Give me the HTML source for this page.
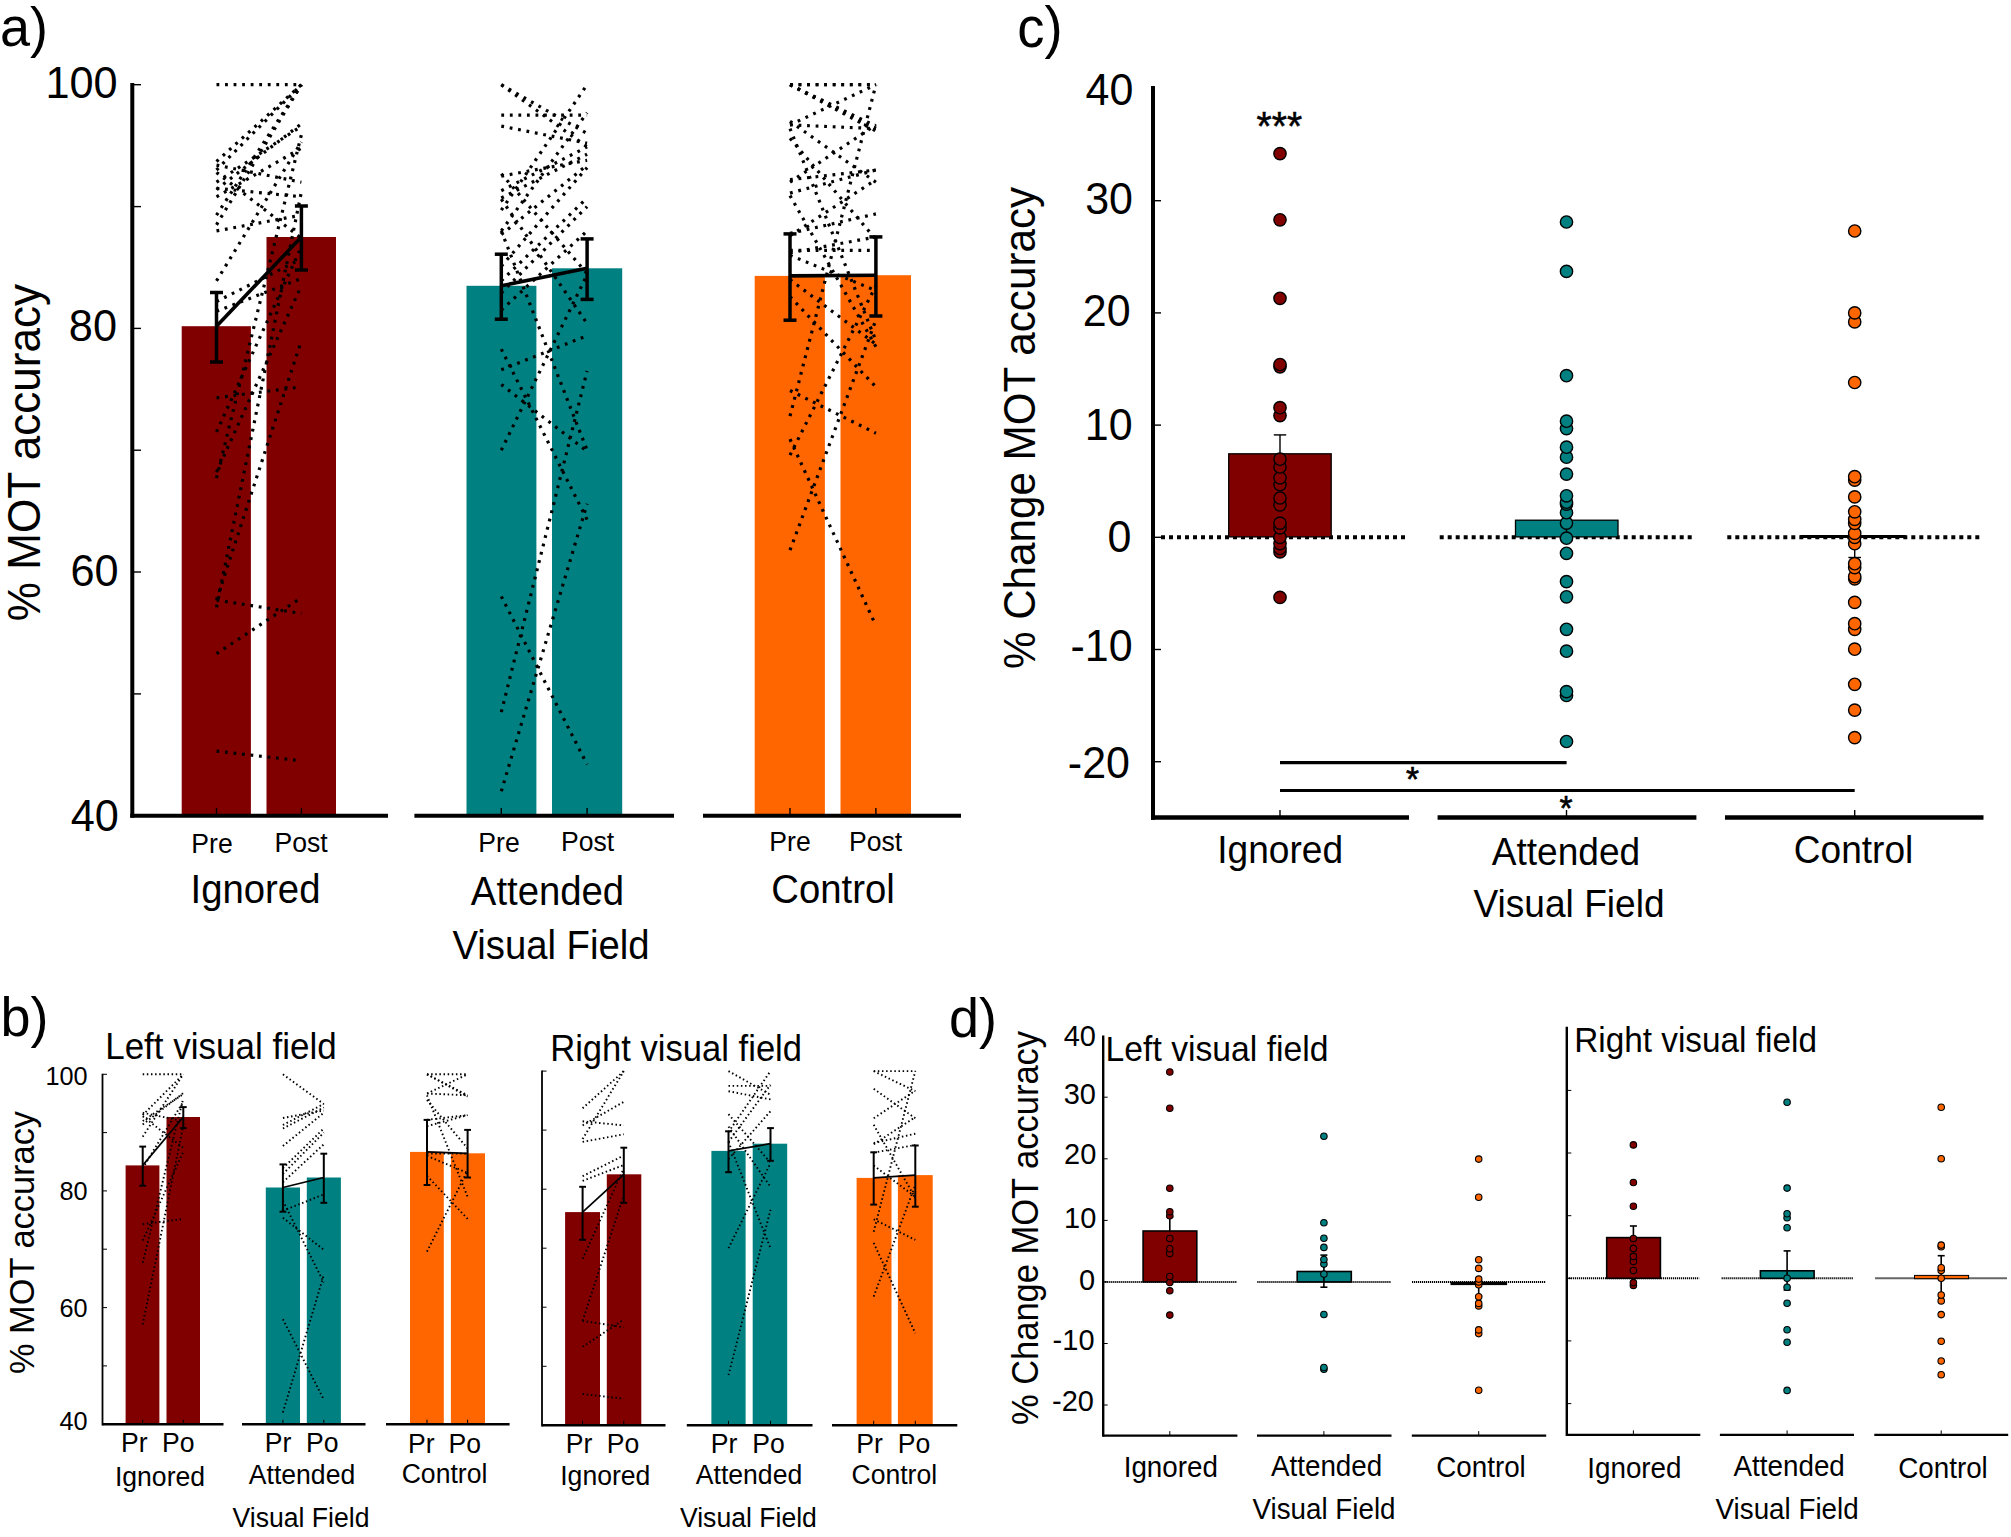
<!DOCTYPE html>
<html lang="en"><head><meta charset="utf-8"><title>MOT accuracy figure</title>
<style>
html,body{margin:0;padding:0;background:#fff;}
body{width:2011px;height:1537px;overflow:hidden;}
svg{display:block;}
svg text{font-family:"Liberation Sans",sans-serif;fill:#000;}
</style></head><body>
<svg width="2011" height="1537" viewBox="0 0 2011 1537">
<rect width="2011" height="1537" fill="#fff"/>
<g id="panel-a">
<rect x="181.7" y="326.2" width="69.2" height="489.5" fill="#800000"/>
<rect x="266.5" y="237" width="69.5" height="578.7" fill="#800000"/>
<rect x="466.5" y="285.8" width="69.9" height="529.9" fill="#008080"/>
<rect x="552" y="268.3" width="70.2" height="547.4" fill="#008080"/>
<rect x="754.7" y="275.9" width="70.2" height="539.8" fill="#ff6600"/>
<rect x="840.5" y="275.2" width="70.5" height="540.5" fill="#ff6600"/>
<g stroke="#000" stroke-width="3.2" stroke-dasharray="2.8 5.75" fill="none">
<path d="M216.5 607.4L301.4 191.9"/>
<path d="M216.5 478.2L301.4 134.7"/>
<path d="M216.5 431.9L301.4 246.8"/>
<path d="M216.5 280.9L301.4 142"/>
<path d="M216.5 215.1L301.4 84.7"/>
<path d="M216.5 170L301.4 84.7"/>
<path d="M216.5 189.5L301.4 123.7"/>
<path d="M216.5 182.2L301.4 126.1"/>
<path d="M216.5 397.8L301.4 386.9"/>
<path d="M216.5 84.7L301.4 84.7"/>
<path d="M216.5 165.1L301.4 182.2"/>
<path d="M216.5 172.4L301.4 238.2"/>
<path d="M216.5 751.1L301.4 760.9"/>
<path d="M216.5 600.1L301.4 613.5"/>
<path d="M216.5 653.7L301.4 597.6"/>
<path d="M216.5 600.1L301.4 340.6"/>
<path d="M216.5 472.1L301.4 285.7"/>
<path d="M216.5 301.6L301.4 258.9"/>
<path d="M216.5 311.3L301.4 278.4"/>
<path d="M216.5 161.5L301.4 84.7"/>
<path d="M216.5 224.8L301.4 84.7"/>
<path d="M216.5 230.9L301.4 215.1"/>
<path d="M216.5 196.8L301.4 148.1"/>
<path d="M216.5 188.3L301.4 196.8"/>
</g>
<line x1="216.5" y1="326.2" x2="301.4" y2="237" stroke="#000" stroke-width="3.6"/>
<line x1="216.5" y1="292.5" x2="216.5" y2="362" stroke="#000" stroke-width="3.5"/>
<line x1="210" y1="292.5" x2="223" y2="292.5" stroke="#000" stroke-width="3.5"/>
<line x1="210" y1="362" x2="223" y2="362" stroke="#000" stroke-width="3.5"/>
<line x1="301.4" y1="206" x2="301.4" y2="270" stroke="#000" stroke-width="3.5"/>
<line x1="294.9" y1="206" x2="307.9" y2="206" stroke="#000" stroke-width="3.5"/>
<line x1="294.9" y1="270" x2="307.9" y2="270" stroke="#000" stroke-width="3.5"/>
<g stroke="#000" stroke-width="3.2" stroke-dasharray="2.8 5.75" fill="none">
<path d="M501.3 791.3L587.1 503.8"/>
<path d="M501.3 596.4L587.1 764.5"/>
<path d="M501.3 84.7L587.1 146.9"/>
<path d="M501.3 369.8L587.1 335.7"/>
<path d="M501.3 384.4L587.1 451.4"/>
<path d="M501.3 349.1L587.1 519.7"/>
<path d="M501.3 176.1L587.1 160.3"/>
<path d="M501.3 190.7L587.1 146.9"/>
<path d="M501.3 198L587.1 154.2"/>
<path d="M501.3 234.6L587.1 165.1"/>
<path d="M501.3 280.9L587.1 198"/>
<path d="M501.3 293L587.1 206.6"/>
<path d="M501.3 310.1L587.1 230.9"/>
<path d="M501.3 712.1L587.1 371"/>
<path d="M501.3 450.2L587.1 274.8"/>
<path d="M501.3 210.2L587.1 84.7"/>
<path d="M501.3 230.9L587.1 112.7"/>
<path d="M501.3 266.2L587.1 167.6"/>
<path d="M501.3 115.2L587.1 115.2"/>
<path d="M501.3 126.1L587.1 143.2"/>
<path d="M501.3 84.7L587.1 133.5"/>
<path d="M501.3 173.7L587.1 273.6"/>
<path d="M501.3 199.2L587.1 323.5"/>
<path d="M501.3 230.9L587.1 450.2"/>
</g>
<line x1="501.3" y1="285.8" x2="587.1" y2="268.3" stroke="#000" stroke-width="3.6"/>
<line x1="501.3" y1="254.2" x2="501.3" y2="319.2" stroke="#000" stroke-width="3.5"/>
<line x1="494.8" y1="254.2" x2="507.8" y2="254.2" stroke="#000" stroke-width="3.5"/>
<line x1="494.8" y1="319.2" x2="507.8" y2="319.2" stroke="#000" stroke-width="3.5"/>
<line x1="587.1" y1="238.9" x2="587.1" y2="299.4" stroke="#000" stroke-width="3.5"/>
<line x1="580.6" y1="238.9" x2="593.6" y2="238.9" stroke="#000" stroke-width="3.5"/>
<line x1="580.6" y1="299.4" x2="593.6" y2="299.4" stroke="#000" stroke-width="3.5"/>
<g stroke="#000" stroke-width="3.2" stroke-dasharray="2.8 5.75" fill="none">
<path d="M790 84.7L875.9 84.7"/>
<path d="M790 84.7L875.9 131"/>
<path d="M790 84.7L875.9 128.6"/>
<path d="M790 124.9L875.9 84.7"/>
<path d="M790 124.9L875.9 128.6"/>
<path d="M790 128.6L875.9 340.6"/>
<path d="M790 138.3L875.9 239.4"/>
<path d="M790 179.7L875.9 170"/>
<path d="M790 193.1L875.9 170"/>
<path d="M790 250.4L875.9 250.4"/>
<path d="M790 255.3L875.9 290.6"/>
<path d="M790 296.7L875.9 386.9"/>
<path d="M790 455.1L875.9 285.7"/>
<path d="M790 84.7L875.9 84.7"/>
<path d="M790 84.7L875.9 126.1"/>
<path d="M790 416.1L875.9 84.7"/>
<path d="M790 121.3L875.9 182.2"/>
<path d="M790 182.2L875.9 124.9"/>
<path d="M790 195.6L875.9 346.7"/>
<path d="M790 233.4L875.9 213.9"/>
<path d="M790 235.8L875.9 179.7"/>
<path d="M790 252.8L875.9 237"/>
<path d="M790 279.6L875.9 344.2"/>
<path d="M790 390.5L875.9 433.2"/>
<path d="M790 439.2L875.9 625.6"/>
<path d="M790 550.1L875.9 319.9"/>
</g>
<line x1="790" y1="275.9" x2="875.9" y2="275.2" stroke="#000" stroke-width="3.6"/>
<line x1="790" y1="233.9" x2="790" y2="320.2" stroke="#000" stroke-width="3.5"/>
<line x1="783.5" y1="233.9" x2="796.5" y2="233.9" stroke="#000" stroke-width="3.5"/>
<line x1="783.5" y1="320.2" x2="796.5" y2="320.2" stroke="#000" stroke-width="3.5"/>
<line x1="875.9" y1="236.9" x2="875.9" y2="316" stroke="#000" stroke-width="3.5"/>
<line x1="869.4" y1="236.9" x2="882.4" y2="236.9" stroke="#000" stroke-width="3.5"/>
<line x1="869.4" y1="316" x2="882.4" y2="316" stroke="#000" stroke-width="3.5"/>
<line x1="132.3" y1="83" x2="132.3" y2="817.7" stroke="#000" stroke-width="4"/>
<line x1="130.3" y1="815.8" x2="388" y2="815.8" stroke="#000" stroke-width="4"/>
<line x1="414.4" y1="815.8" x2="674" y2="815.8" stroke="#000" stroke-width="4"/>
<line x1="703" y1="815.8" x2="961" y2="815.8" stroke="#000" stroke-width="4"/>
<line x1="132" y1="815.7" x2="141" y2="815.7" stroke="#000" stroke-width="1.4"/>
<line x1="132" y1="693.9" x2="141" y2="693.9" stroke="#000" stroke-width="1.4"/>
<line x1="132" y1="572" x2="141" y2="572" stroke="#000" stroke-width="1.4"/>
<line x1="132" y1="450.2" x2="141" y2="450.2" stroke="#000" stroke-width="1.4"/>
<line x1="132" y1="328.4" x2="141" y2="328.4" stroke="#000" stroke-width="1.4"/>
<line x1="132" y1="206.6" x2="141" y2="206.6" stroke="#000" stroke-width="1.4"/>
<line x1="132" y1="84.7" x2="141" y2="84.7" stroke="#000" stroke-width="1.4"/>
<line x1="216.5" y1="808" x2="216.5" y2="815" stroke="#000" stroke-width="1.4"/>
<line x1="301.4" y1="808" x2="301.4" y2="815" stroke="#000" stroke-width="1.4"/>
<line x1="501.3" y1="808" x2="501.3" y2="815" stroke="#000" stroke-width="1.4"/>
<line x1="587.1" y1="808" x2="587.1" y2="815" stroke="#000" stroke-width="1.4"/>
<line x1="790" y1="808" x2="790" y2="815" stroke="#000" stroke-width="1.4"/>
<line x1="875.9" y1="808" x2="875.9" y2="815" stroke="#000" stroke-width="1.4"/>
<text transform="translate(0 46.3) scale(1 1.045)" font-size="54" text-anchor="start">a)</text>
<text transform="translate(117.6 97.9) scale(1 1.045)" font-size="43.3" text-anchor="end">100</text>
<text transform="translate(117 341.4) scale(1 1.045)" font-size="43.3" text-anchor="end">80</text>
<text transform="translate(118.7 586.4) scale(1 1.045)" font-size="43.3" text-anchor="end">60</text>
<text transform="translate(118.9 830.8) scale(1 1.045)" font-size="43.3" text-anchor="end">40</text>
<text transform="translate(40.4 452.5) rotate(-90) scale(1 1.045)" font-size="44.1" text-anchor="middle">% MOT accuracy</text>
<text transform="translate(212 852.7) scale(1 1.045)" font-size="26.6" text-anchor="middle">Pre</text>
<text transform="translate(301 851.7) scale(1 1.045)" font-size="26.6" text-anchor="middle">Post</text>
<text transform="translate(499 852) scale(1 1.045)" font-size="26.6" text-anchor="middle">Pre</text>
<text transform="translate(587.5 851) scale(1 1.045)" font-size="26.6" text-anchor="middle">Post</text>
<text transform="translate(790 850.5) scale(1 1.045)" font-size="26.6" text-anchor="middle">Pre</text>
<text transform="translate(875.5 850.5) scale(1 1.045)" font-size="26.6" text-anchor="middle">Post</text>
<text transform="translate(255.5 903.4) scale(1 1.045)" font-size="38.3" text-anchor="middle">Ignored</text>
<text transform="translate(547.5 905.4) scale(1 1.045)" font-size="38.3" text-anchor="middle">Attended</text>
<text transform="translate(833 903.4) scale(1 1.045)" font-size="38.3" text-anchor="middle">Control</text>
<text transform="translate(551 959) scale(1 1.045)" font-size="38.3" text-anchor="middle">Visual Field</text>
</g>
<g id="panel-c">
<line x1="1161" y1="537.2" x2="1407.6" y2="537.2" stroke="#000" stroke-width="4" stroke-dasharray="4 4"/>
<line x1="1439.7" y1="537.2" x2="1693.5" y2="537.2" stroke="#000" stroke-width="4" stroke-dasharray="4 4"/>
<line x1="1727.3" y1="537.2" x2="1981.5" y2="537.2" stroke="#000" stroke-width="4" stroke-dasharray="4 4"/>
<rect x="1228.7" y="453.8" width="102.5" height="83.1" fill="#800000" stroke="#000" stroke-width="1.3"/>
<line x1="1280" y1="434.9" x2="1280" y2="453.8" stroke="#000" stroke-width="1.4"/>
<line x1="1273.8" y1="434.9" x2="1286.2" y2="434.9" stroke="#000" stroke-width="1.4"/>
<rect x="1515.5" y="520.2" width="102.5" height="16.7" fill="#008080" stroke="#000" stroke-width="1.3"/>
<line x1="1566.5" y1="520" x2="1566.5" y2="541" stroke="#000" stroke-width="1.4"/>
<line x1="1800.3" y1="536.6" x2="1905.7" y2="536.6" stroke="#000" stroke-width="3"/>
<line x1="1854.7" y1="536" x2="1854.7" y2="557.5" stroke="#000" stroke-width="1.4"/>
<line x1="1848.4" y1="557.5" x2="1861" y2="557.5" stroke="#000" stroke-width="1.4"/>
<g fill="#800000" stroke="#000" stroke-width="1.4">
<circle cx="1280" cy="597.4" r="6.15"/>
<circle cx="1280" cy="551.9" r="6.15"/>
<circle cx="1280" cy="548.5" r="6.15"/>
<circle cx="1280" cy="543.6" r="6.15"/>
<circle cx="1280" cy="537.3" r="6.15"/>
<circle cx="1280" cy="527.9" r="6.15"/>
<circle cx="1280" cy="523.1" r="6.15"/>
<circle cx="1280" cy="504.8" r="6.15"/>
<circle cx="1280" cy="498" r="6.15"/>
<circle cx="1280" cy="484.6" r="6.15"/>
<circle cx="1280" cy="477.8" r="6.15"/>
<circle cx="1280" cy="467" r="6.15"/>
<circle cx="1280" cy="459.2" r="6.15"/>
<circle cx="1280" cy="415.6" r="6.15"/>
<circle cx="1280" cy="407.7" r="6.15"/>
<circle cx="1280" cy="366.8" r="6.15"/>
<circle cx="1280" cy="364.5" r="6.15"/>
<circle cx="1280" cy="298.3" r="6.15"/>
<circle cx="1280" cy="219.8" r="6.15"/>
<circle cx="1280" cy="153.6" r="6.15"/>
</g>
<g fill="#008080" stroke="#000" stroke-width="1.4">
<circle cx="1566.5" cy="741.5" r="6.15"/>
<circle cx="1566.5" cy="695.5" r="6.15"/>
<circle cx="1566.5" cy="691.6" r="6.15"/>
<circle cx="1566.5" cy="651.2" r="6.15"/>
<circle cx="1566.5" cy="629.3" r="6.15"/>
<circle cx="1566.5" cy="596.8" r="6.15"/>
<circle cx="1566.5" cy="581.6" r="6.15"/>
<circle cx="1566.5" cy="553.3" r="6.15"/>
<circle cx="1566.5" cy="538.2" r="6.15"/>
<circle cx="1566.5" cy="523.1" r="6.15"/>
<circle cx="1566.5" cy="512.7" r="6.15"/>
<circle cx="1566.5" cy="504.1" r="6.15"/>
<circle cx="1566.5" cy="502.2" r="6.15"/>
<circle cx="1566.5" cy="495.8" r="6.15"/>
<circle cx="1566.5" cy="474.1" r="6.15"/>
<circle cx="1566.5" cy="457.2" r="6.15"/>
<circle cx="1566.5" cy="447.2" r="6.15"/>
<circle cx="1566.5" cy="428.6" r="6.15"/>
<circle cx="1566.5" cy="421.2" r="6.15"/>
<circle cx="1566.5" cy="375.7" r="6.15"/>
<circle cx="1566.5" cy="271.4" r="6.15"/>
<circle cx="1566.5" cy="222" r="6.15"/>
</g>
<g fill="#ff6600" stroke="#000" stroke-width="1.4">
<circle cx="1854.7" cy="737.6" r="6.15"/>
<circle cx="1854.7" cy="710.1" r="6.15"/>
<circle cx="1854.7" cy="684.3" r="6.15"/>
<circle cx="1854.7" cy="649.2" r="6.15"/>
<circle cx="1854.7" cy="629.3" r="6.15"/>
<circle cx="1854.7" cy="623.7" r="6.15"/>
<circle cx="1854.7" cy="602.4" r="6.15"/>
<circle cx="1854.7" cy="578.8" r="6.15"/>
<circle cx="1854.7" cy="576.6" r="6.15"/>
<circle cx="1854.7" cy="567.6" r="6.15"/>
<circle cx="1854.7" cy="563.7" r="6.15"/>
<circle cx="1854.7" cy="543.7" r="6.15"/>
<circle cx="1854.7" cy="537.3" r="6.15"/>
<circle cx="1854.7" cy="533.4" r="6.15"/>
<circle cx="1854.7" cy="523.3" r="6.15"/>
<circle cx="1854.7" cy="519.3" r="6.15"/>
<circle cx="1854.7" cy="511.8" r="6.15"/>
<circle cx="1854.7" cy="496.9" r="6.15"/>
<circle cx="1854.7" cy="480.1" r="6.15"/>
<circle cx="1854.7" cy="476.7" r="6.15"/>
<circle cx="1854.7" cy="382.5" r="6.15"/>
<circle cx="1854.7" cy="321.9" r="6.15"/>
<circle cx="1854.7" cy="312.9" r="6.15"/>
<circle cx="1854.7" cy="231" r="6.15"/>
</g>
<line x1="1153" y1="86" x2="1153" y2="819.8" stroke="#000" stroke-width="4"/>
<line x1="1151" y1="817.6" x2="1409" y2="817.6" stroke="#000" stroke-width="4.5"/>
<line x1="1437.6" y1="817.6" x2="1696.4" y2="817.6" stroke="#000" stroke-width="4.5"/>
<line x1="1725" y1="817.6" x2="1983.5" y2="817.6" stroke="#000" stroke-width="4.5"/>
<line x1="1153" y1="200.7" x2="1161" y2="200.7" stroke="#000" stroke-width="1.4"/>
<line x1="1153" y1="312.9" x2="1161" y2="312.9" stroke="#000" stroke-width="1.4"/>
<line x1="1153" y1="425.1" x2="1161" y2="425.1" stroke="#000" stroke-width="1.4"/>
<line x1="1153" y1="537.3" x2="1161" y2="537.3" stroke="#000" stroke-width="1.4"/>
<line x1="1153" y1="649.5" x2="1161" y2="649.5" stroke="#000" stroke-width="1.4"/>
<line x1="1153" y1="761.7" x2="1161" y2="761.7" stroke="#000" stroke-width="1.4"/>
<line x1="1280" y1="810" x2="1280" y2="817" stroke="#000" stroke-width="1.4"/>
<line x1="1566.5" y1="810" x2="1566.5" y2="817" stroke="#000" stroke-width="1.4"/>
<line x1="1854.7" y1="810" x2="1854.7" y2="817" stroke="#000" stroke-width="1.4"/>
<line x1="1280" y1="762.7" x2="1566.6" y2="762.7" stroke="#000" stroke-width="3.2"/>
<line x1="1280" y1="790.5" x2="1854.7" y2="790.5" stroke="#000" stroke-width="3.2"/>
<text transform="translate(1412.5 790.6) scale(1 1.045)" font-size="33.5" text-anchor="middle" stroke="#000" stroke-width="0.6">*</text>
<text transform="translate(1566 819.6) scale(1 1.045)" font-size="33.5" text-anchor="middle" stroke="#000" stroke-width="0.6">*</text>
<text transform="translate(1279.3 140.1) scale(1 1.045)" font-size="39" text-anchor="middle" stroke="#000" stroke-width="0.5">***</text>
<text transform="translate(1017.3 46.5) scale(1 1.045)" font-size="54.5" text-anchor="start">c)</text>
<text transform="translate(1133.3 105.2) scale(1 1.045)" font-size="43" text-anchor="end">40</text>
<text transform="translate(1133 214.2) scale(1 1.045)" font-size="43" text-anchor="end">30</text>
<text transform="translate(1130.7 326.3) scale(1 1.045)" font-size="43" text-anchor="end">20</text>
<text transform="translate(1132.6 439.6) scale(1 1.045)" font-size="43" text-anchor="end">10</text>
<text transform="translate(1131.3 552.2) scale(1 1.045)" font-size="43" text-anchor="end">0</text>
<text transform="translate(1132.6 660.6) scale(1 1.045)" font-size="43" text-anchor="end">-10</text>
<text transform="translate(1130 777.9) scale(1 1.045)" font-size="43" text-anchor="end">-20</text>
<text transform="translate(1035 428) rotate(-90) scale(1 1.045)" font-size="42.2" text-anchor="middle">% Change MOT accuracy</text>
<text transform="translate(1280.2 863) scale(1 1.045)" font-size="37.1" text-anchor="middle">Ignored</text>
<text transform="translate(1566 865) scale(1 1.045)" font-size="37.1" text-anchor="middle">Attended</text>
<text transform="translate(1853.5 863) scale(1 1.045)" font-size="37.1" text-anchor="middle">Control</text>
<text transform="translate(1569 916.7) scale(1 1.045)" font-size="37.1" text-anchor="middle">Visual Field</text>
</g>
<g id="panel-b-left">
<rect x="125.6" y="1165.4" width="33.8" height="258.8" fill="#800000"/>
<rect x="166.5" y="1117" width="33.5" height="307.2" fill="#800000"/>
<rect x="265.8" y="1187.5" width="34.2" height="236.7" fill="#008080"/>
<rect x="306.8" y="1177.5" width="34.1" height="246.7" fill="#008080"/>
<rect x="410" y="1151.9" width="33.8" height="272.3" fill="#ff6600"/>
<rect x="450.9" y="1153.3" width="34.1" height="270.9" fill="#ff6600"/>
<g stroke="#000" stroke-width="1.9" stroke-dasharray="1.5 2.63" fill="none">
<path d="M142.7 1324.5L183.3 1125.6"/>
<path d="M142.7 1262.7L183.3 1098.2"/>
<path d="M142.7 1240.5L183.3 1151.9"/>
<path d="M142.7 1168.2L183.3 1101.7"/>
<path d="M142.7 1136.7L183.3 1074.3"/>
<path d="M142.7 1115.1L183.3 1074.3"/>
<path d="M142.7 1124.5L183.3 1093"/>
<path d="M142.7 1121L183.3 1094.1"/>
<path d="M142.7 1224.2L183.3 1218.9"/>
<path d="M142.7 1074.3L183.3 1074.3"/>
<path d="M142.7 1112.8L183.3 1121"/>
<path d="M142.7 1116.3L183.3 1147.8"/>
</g>
<line x1="142.7" y1="1165.4" x2="183.3" y2="1117" stroke="#000" stroke-width="1.7"/>
<line x1="142.7" y1="1146.6" x2="142.7" y2="1185.7" stroke="#000" stroke-width="2"/>
<line x1="139.3" y1="1146.6" x2="146.1" y2="1146.6" stroke="#000" stroke-width="2"/>
<line x1="139.3" y1="1185.7" x2="146.1" y2="1185.7" stroke="#000" stroke-width="2"/>
<line x1="183.3" y1="1107.1" x2="183.3" y2="1128.1" stroke="#000" stroke-width="2"/>
<line x1="179.9" y1="1107.1" x2="186.7" y2="1107.1" stroke="#000" stroke-width="2"/>
<line x1="179.9" y1="1128.1" x2="186.7" y2="1128.1" stroke="#000" stroke-width="2"/>
<g stroke="#000" stroke-width="1.9" stroke-dasharray="1.5 2.63" fill="none">
<path d="M282.9 1412.5L323.8 1274.9"/>
<path d="M282.9 1319.2L323.8 1399.7"/>
<path d="M282.9 1074.3L323.8 1104"/>
<path d="M282.9 1210.8L323.8 1194.4"/>
<path d="M282.9 1217.8L323.8 1249.8"/>
<path d="M282.9 1200.8L323.8 1282.5"/>
<path d="M282.9 1118L323.8 1110.5"/>
<path d="M282.9 1125L323.8 1104"/>
<path d="M282.9 1128.5L323.8 1107.5"/>
<path d="M282.9 1146L323.8 1112.8"/>
<path d="M282.9 1168.2L323.8 1128.5"/>
<path d="M282.9 1174L323.8 1132.6"/>
<path d="M282.9 1182.2L323.8 1144.3"/>
</g>
<line x1="282.9" y1="1187.5" x2="323.8" y2="1177.5" stroke="#000" stroke-width="1.7"/>
<line x1="282.9" y1="1164.4" x2="282.9" y2="1211.7" stroke="#000" stroke-width="2"/>
<line x1="279.5" y1="1164.4" x2="286.3" y2="1164.4" stroke="#000" stroke-width="2"/>
<line x1="279.5" y1="1211.7" x2="286.3" y2="1211.7" stroke="#000" stroke-width="2"/>
<line x1="323.8" y1="1153.7" x2="323.8" y2="1202.8" stroke="#000" stroke-width="2"/>
<line x1="320.4" y1="1153.7" x2="327.2" y2="1153.7" stroke="#000" stroke-width="2"/>
<line x1="320.4" y1="1202.8" x2="327.2" y2="1202.8" stroke="#000" stroke-width="2"/>
<g stroke="#000" stroke-width="1.9" stroke-dasharray="1.5 2.63" fill="none">
<path d="M427 1074.3L467.6 1074.3"/>
<path d="M427 1074.3L467.6 1096.5"/>
<path d="M427 1074.3L467.6 1095.3"/>
<path d="M427 1093.5L467.6 1074.3"/>
<path d="M427 1093.5L467.6 1095.3"/>
<path d="M427 1095.3L467.6 1196.8"/>
<path d="M427 1100L467.6 1148.4"/>
<path d="M427 1119.8L467.6 1115.1"/>
<path d="M427 1126.2L467.6 1115.1"/>
<path d="M427 1153.6L467.6 1153.6"/>
<path d="M427 1155.9L467.6 1172.9"/>
<path d="M427 1175.8L467.6 1218.9"/>
<path d="M427 1251.6L467.6 1170.5"/>
</g>
<line x1="427" y1="1151.9" x2="467.6" y2="1153.3" stroke="#000" stroke-width="1.7"/>
<line x1="427" y1="1119.9" x2="427" y2="1185" stroke="#000" stroke-width="2"/>
<line x1="423.6" y1="1119.9" x2="430.4" y2="1119.9" stroke="#000" stroke-width="2"/>
<line x1="423.6" y1="1185" x2="430.4" y2="1185" stroke="#000" stroke-width="2"/>
<line x1="467.6" y1="1129.9" x2="467.6" y2="1177.5" stroke="#000" stroke-width="2"/>
<line x1="464.2" y1="1129.9" x2="471" y2="1129.9" stroke="#000" stroke-width="2"/>
<line x1="464.2" y1="1177.5" x2="471" y2="1177.5" stroke="#000" stroke-width="2"/>
<line x1="102.5" y1="1073.7" x2="102.5" y2="1425.4" stroke="#000" stroke-width="1.8"/>
<line x1="102.5" y1="1424.2" x2="223.5" y2="1424.2" stroke="#000" stroke-width="2.4"/>
<line x1="242" y1="1424.2" x2="365.5" y2="1424.2" stroke="#000" stroke-width="2.4"/>
<line x1="386" y1="1424.2" x2="509.6" y2="1424.2" stroke="#000" stroke-width="2.4"/>
<line x1="102.5" y1="1424.2" x2="107" y2="1424.2" stroke="#000" stroke-width="1"/>
<line x1="102.5" y1="1365.9" x2="107" y2="1365.9" stroke="#000" stroke-width="1"/>
<line x1="102.5" y1="1307.6" x2="107" y2="1307.6" stroke="#000" stroke-width="1"/>
<line x1="102.5" y1="1249.2" x2="107" y2="1249.2" stroke="#000" stroke-width="1"/>
<line x1="102.5" y1="1190.9" x2="107" y2="1190.9" stroke="#000" stroke-width="1"/>
<line x1="102.5" y1="1132.6" x2="107" y2="1132.6" stroke="#000" stroke-width="1"/>
<line x1="102.5" y1="1074.3" x2="107" y2="1074.3" stroke="#000" stroke-width="1"/>
<line x1="142.7" y1="1419.7" x2="142.7" y2="1424.2" stroke="#000" stroke-width="1"/>
<line x1="183.3" y1="1419.7" x2="183.3" y2="1424.2" stroke="#000" stroke-width="1"/>
<line x1="282.9" y1="1419.7" x2="282.9" y2="1424.2" stroke="#000" stroke-width="1"/>
<line x1="323.8" y1="1419.7" x2="323.8" y2="1424.2" stroke="#000" stroke-width="1"/>
<line x1="427" y1="1419.7" x2="427" y2="1424.2" stroke="#000" stroke-width="1"/>
<line x1="467.6" y1="1419.7" x2="467.6" y2="1424.2" stroke="#000" stroke-width="1"/>
<text transform="translate(105.2 1059) scale(1 1.045)" font-size="35" text-anchor="start">Left visual field</text>
<text transform="translate(134.3 1452) scale(1 1.045)" font-size="26.6" text-anchor="middle">Pr</text>
<text transform="translate(178.3 1452) scale(1 1.045)" font-size="26.6" text-anchor="middle">Po</text>
<text transform="translate(160 1485.5) scale(1 1.045)" font-size="26.6" text-anchor="middle">Ignored</text>
<text transform="translate(278 1452) scale(1 1.045)" font-size="26.6" text-anchor="middle">Pr</text>
<text transform="translate(322.2 1452) scale(1 1.045)" font-size="26.6" text-anchor="middle">Po</text>
<text transform="translate(302 1483.5) scale(1 1.045)" font-size="26.6" text-anchor="middle">Attended</text>
<text transform="translate(421.3 1452.5) scale(1 1.045)" font-size="26.6" text-anchor="middle">Pr</text>
<text transform="translate(464.8 1452.5) scale(1 1.045)" font-size="26.6" text-anchor="middle">Po</text>
<text transform="translate(444.5 1482.5) scale(1 1.045)" font-size="26.6" text-anchor="middle">Control</text>
<text transform="translate(301 1527) scale(1 1.045)" font-size="26.6" text-anchor="middle">Visual Field</text>
</g>
<text transform="translate(0.5 1036.2) scale(1 1.045)" font-size="54" text-anchor="start">b)</text>
<text transform="translate(87.6 1084.6) scale(1 1.045)" font-size="25.3" text-anchor="end">100</text>
<text transform="translate(87.6 1200.2) scale(1 1.045)" font-size="25.3" text-anchor="end">80</text>
<text transform="translate(87.6 1317) scale(1 1.045)" font-size="25.3" text-anchor="end">60</text>
<text transform="translate(87.6 1430) scale(1 1.045)" font-size="25.3" text-anchor="end">40</text>
<text transform="translate(33.5 1242.5) rotate(-90) scale(1 1.045)" font-size="34.4" text-anchor="middle">% MOT accuracy</text>
<g id="panel-b-right">
<rect x="565.1" y="1212.1" width="34.9" height="213.2" fill="#800000"/>
<rect x="606.8" y="1174.3" width="34.5" height="251" fill="#800000"/>
<rect x="711.4" y="1150.9" width="34.2" height="274.4" fill="#008080"/>
<rect x="752.7" y="1143.7" width="34.5" height="281.6" fill="#008080"/>
<rect x="856.6" y="1177.9" width="34.9" height="247.4" fill="#ff6600"/>
<rect x="897.9" y="1175.1" width="34.8" height="250.2" fill="#ff6600"/>
<g stroke="#000" stroke-width="1.9" stroke-dasharray="1.5 2.63" fill="none">
<path d="M582.6 1394L623.8 1398.7"/>
<path d="M582.6 1320.8L623.8 1327.3"/>
<path d="M582.6 1346.8L623.8 1319.6"/>
<path d="M582.6 1320.8L623.8 1195.1"/>
<path d="M582.6 1258.8L623.8 1168.5"/>
<path d="M582.6 1176.2L623.8 1155.5"/>
<path d="M582.6 1180.9L623.8 1165"/>
<path d="M582.6 1108.3L623.8 1071.1"/>
<path d="M582.6 1139L623.8 1071.1"/>
<path d="M582.6 1141.9L623.8 1134.3"/>
<path d="M582.6 1125.4L623.8 1101.8"/>
<path d="M582.6 1121.3L623.8 1125.4"/>
</g>
<line x1="582.6" y1="1212.1" x2="623.8" y2="1174.3" stroke="#000" stroke-width="1.7"/>
<line x1="582.6" y1="1186.8" x2="582.6" y2="1239.8" stroke="#000" stroke-width="2"/>
<line x1="579.2" y1="1186.8" x2="586" y2="1186.8" stroke="#000" stroke-width="2"/>
<line x1="579.2" y1="1239.8" x2="586" y2="1239.8" stroke="#000" stroke-width="2"/>
<line x1="623.8" y1="1147.7" x2="623.8" y2="1202.8" stroke="#000" stroke-width="2"/>
<line x1="620.4" y1="1147.7" x2="627.2" y2="1147.7" stroke="#000" stroke-width="2"/>
<line x1="620.4" y1="1202.8" x2="627.2" y2="1202.8" stroke="#000" stroke-width="2"/>
<g stroke="#000" stroke-width="1.9" stroke-dasharray="1.5 2.63" fill="none">
<path d="M728.5 1375.1L770.5 1209.8"/>
<path d="M728.5 1248.2L770.5 1163.2"/>
<path d="M728.5 1131.9L770.5 1071.1"/>
<path d="M728.5 1141.9L770.5 1084.7"/>
<path d="M728.5 1159.1L770.5 1111.2"/>
<path d="M728.5 1085.9L770.5 1085.9"/>
<path d="M728.5 1091.2L770.5 1099.4"/>
<path d="M728.5 1071.1L770.5 1094.7"/>
<path d="M728.5 1114.2L770.5 1162.6"/>
<path d="M728.5 1126.6L770.5 1186.8"/>
<path d="M728.5 1141.9L770.5 1248.2"/>
</g>
<line x1="728.5" y1="1150.9" x2="770.5" y2="1143.7" stroke="#000" stroke-width="1.7"/>
<line x1="728.5" y1="1131.3" x2="728.5" y2="1172.2" stroke="#000" stroke-width="2"/>
<line x1="725.1" y1="1131.3" x2="731.9" y2="1131.3" stroke="#000" stroke-width="2"/>
<line x1="725.1" y1="1172.2" x2="731.9" y2="1172.2" stroke="#000" stroke-width="2"/>
<line x1="770.5" y1="1128.1" x2="770.5" y2="1160.8" stroke="#000" stroke-width="2"/>
<line x1="767.1" y1="1128.1" x2="773.9" y2="1128.1" stroke="#000" stroke-width="2"/>
<line x1="767.1" y1="1160.8" x2="773.9" y2="1160.8" stroke="#000" stroke-width="2"/>
<g stroke="#000" stroke-width="1.9" stroke-dasharray="1.5 2.63" fill="none">
<path d="M873.7 1071.1L915.3 1071.1"/>
<path d="M873.7 1071.1L915.3 1091.2"/>
<path d="M873.7 1231.7L915.3 1071.1"/>
<path d="M873.7 1088.8L915.3 1118.3"/>
<path d="M873.7 1118.3L915.3 1090.6"/>
<path d="M873.7 1124.8L915.3 1198"/>
<path d="M873.7 1143.1L915.3 1133.7"/>
<path d="M873.7 1144.3L915.3 1117.1"/>
<path d="M873.7 1152.6L915.3 1144.9"/>
<path d="M873.7 1165.6L915.3 1196.8"/>
<path d="M873.7 1219.3L915.3 1239.9"/>
<path d="M873.7 1242.9L915.3 1333.2"/>
<path d="M873.7 1296.6L915.3 1185"/>
</g>
<line x1="873.7" y1="1177.9" x2="915.3" y2="1175.1" stroke="#000" stroke-width="1.7"/>
<line x1="873.7" y1="1152.3" x2="873.7" y2="1204.6" stroke="#000" stroke-width="2"/>
<line x1="870.3" y1="1152.3" x2="877.1" y2="1152.3" stroke="#000" stroke-width="2"/>
<line x1="870.3" y1="1204.6" x2="877.1" y2="1204.6" stroke="#000" stroke-width="2"/>
<line x1="915.3" y1="1145.5" x2="915.3" y2="1206.7" stroke="#000" stroke-width="2"/>
<line x1="911.9" y1="1145.5" x2="918.7" y2="1145.5" stroke="#000" stroke-width="2"/>
<line x1="911.9" y1="1206.7" x2="918.7" y2="1206.7" stroke="#000" stroke-width="2"/>
<line x1="542" y1="1070.5" x2="542" y2="1426.5" stroke="#000" stroke-width="1.8"/>
<line x1="542" y1="1425.3" x2="665.5" y2="1425.3" stroke="#000" stroke-width="2.4"/>
<line x1="686.8" y1="1425.3" x2="812.5" y2="1425.3" stroke="#000" stroke-width="2.4"/>
<line x1="832" y1="1425.3" x2="957.3" y2="1425.3" stroke="#000" stroke-width="2.4"/>
<line x1="542" y1="1425.3" x2="546.5" y2="1425.3" stroke="#000" stroke-width="1"/>
<line x1="542" y1="1366.3" x2="546.5" y2="1366.3" stroke="#000" stroke-width="1"/>
<line x1="542" y1="1307.2" x2="546.5" y2="1307.2" stroke="#000" stroke-width="1"/>
<line x1="542" y1="1248.2" x2="546.5" y2="1248.2" stroke="#000" stroke-width="1"/>
<line x1="542" y1="1189.2" x2="546.5" y2="1189.2" stroke="#000" stroke-width="1"/>
<line x1="542" y1="1130.1" x2="546.5" y2="1130.1" stroke="#000" stroke-width="1"/>
<line x1="542" y1="1071.1" x2="546.5" y2="1071.1" stroke="#000" stroke-width="1"/>
<line x1="582.6" y1="1420.8" x2="582.6" y2="1425.3" stroke="#000" stroke-width="1"/>
<line x1="623.8" y1="1420.8" x2="623.8" y2="1425.3" stroke="#000" stroke-width="1"/>
<line x1="728.5" y1="1420.8" x2="728.5" y2="1425.3" stroke="#000" stroke-width="1"/>
<line x1="770.5" y1="1420.8" x2="770.5" y2="1425.3" stroke="#000" stroke-width="1"/>
<line x1="873.7" y1="1420.8" x2="873.7" y2="1425.3" stroke="#000" stroke-width="1"/>
<line x1="915.3" y1="1420.8" x2="915.3" y2="1425.3" stroke="#000" stroke-width="1"/>
<text transform="translate(550.2 1061.3) scale(1 1.045)" font-size="34.6" text-anchor="start">Right visual field</text>
<text transform="translate(579 1452.6) scale(1 1.045)" font-size="26.6" text-anchor="middle">Pr</text>
<text transform="translate(623 1452.6) scale(1 1.045)" font-size="26.6" text-anchor="middle">Po</text>
<text transform="translate(605.3 1485.4) scale(1 1.045)" font-size="26.6" text-anchor="middle">Ignored</text>
<text transform="translate(724 1452.6) scale(1 1.045)" font-size="26.6" text-anchor="middle">Pr</text>
<text transform="translate(768.5 1452.6) scale(1 1.045)" font-size="26.6" text-anchor="middle">Po</text>
<text transform="translate(749 1483.6) scale(1 1.045)" font-size="26.6" text-anchor="middle">Attended</text>
<text transform="translate(869.5 1452.6) scale(1 1.045)" font-size="26.6" text-anchor="middle">Pr</text>
<text transform="translate(914 1452.6) scale(1 1.045)" font-size="26.6" text-anchor="middle">Po</text>
<text transform="translate(894.3 1483.6) scale(1 1.045)" font-size="26.6" text-anchor="middle">Control</text>
<text transform="translate(748.4 1527.4) scale(1 1.045)" font-size="26.6" text-anchor="middle">Visual Field</text>
</g>
<g id="panel-d-left">
<line x1="1103.2" y1="1281.9" x2="1236.5" y2="1281.9" stroke="#000" stroke-width="2" stroke-dasharray="1.2 0.8"/>
<line x1="1257.3" y1="1281.9" x2="1391" y2="1281.9" stroke="#000" stroke-width="2" stroke-dasharray="1.2 0.8"/>
<line x1="1412" y1="1281.9" x2="1545.5" y2="1281.9" stroke="#000" stroke-width="2" stroke-dasharray="1.2 0.8"/>
<rect x="1143.1" y="1231" width="53.7" height="50.9" fill="#800000" stroke="#000" stroke-width="1.6"/>
<rect x="1297.2" y="1271.5" width="54.1" height="10.4" fill="#008080" stroke="#000" stroke-width="1.6"/>
<rect x="1450.5" y="1281.7" width="56.6" height="3.4" fill="#000"/>
<line x1="1169.8" y1="1216.7" x2="1169.8" y2="1231" stroke="#000" stroke-width="1.6"/>
<line x1="1166.3" y1="1216.7" x2="1173.3" y2="1216.7" stroke="#000" stroke-width="1.6"/>
<line x1="1323.9" y1="1255.1" x2="1323.9" y2="1287.2" stroke="#000" stroke-width="1.6"/>
<line x1="1320.4" y1="1255.1" x2="1327.4" y2="1255.1" stroke="#000" stroke-width="1.6"/>
<line x1="1320.4" y1="1287.2" x2="1327.4" y2="1287.2" stroke="#000" stroke-width="1.6"/>
<line x1="1478.7" y1="1278.8" x2="1478.7" y2="1296.1" stroke="#000" stroke-width="1.6"/>
<line x1="1475.2" y1="1296.1" x2="1482.2" y2="1296.1" stroke="#000" stroke-width="1.6"/>
<g fill="#800000" stroke="#000" stroke-width="1.1">
<circle cx="1169.8" cy="1315.1" r="3.25"/>
<circle cx="1169.8" cy="1290.8" r="3.25"/>
<circle cx="1169.8" cy="1282.5" r="3.25"/>
<circle cx="1169.8" cy="1276.5" r="3.25"/>
<circle cx="1169.8" cy="1253.6" r="3.25"/>
<circle cx="1169.8" cy="1248.7" r="3.25"/>
<circle cx="1169.8" cy="1238.5" r="3.25"/>
<circle cx="1169.8" cy="1215.7" r="3.25"/>
<circle cx="1169.8" cy="1211.7" r="3.25"/>
<circle cx="1169.8" cy="1188.3" r="3.25"/>
<circle cx="1169.8" cy="1108.3" r="3.25"/>
<circle cx="1169.8" cy="1072" r="3.25"/>
</g>
<g fill="#008080" stroke="#000" stroke-width="1.1">
<circle cx="1323.9" cy="1369.3" r="3.25"/>
<circle cx="1323.9" cy="1367.5" r="3.25"/>
<circle cx="1323.9" cy="1314.5" r="3.25"/>
<circle cx="1323.9" cy="1274.1" r="3.25"/>
<circle cx="1323.9" cy="1264.1" r="3.25"/>
<circle cx="1323.9" cy="1259.5" r="3.25"/>
<circle cx="1323.9" cy="1247.4" r="3.25"/>
<circle cx="1323.9" cy="1238.2" r="3.25"/>
<circle cx="1323.9" cy="1222.8" r="3.25"/>
<circle cx="1323.9" cy="1136.3" r="3.25"/>
</g>
<g fill="#ff6600" stroke="#000" stroke-width="1.1">
<circle cx="1478.7" cy="1390.2" r="3.25"/>
<circle cx="1478.7" cy="1333.6" r="3.25"/>
<circle cx="1478.7" cy="1329.9" r="3.25"/>
<circle cx="1478.7" cy="1305.9" r="3.25"/>
<circle cx="1478.7" cy="1303.4" r="3.25"/>
<circle cx="1478.7" cy="1296.7" r="3.25"/>
<circle cx="1478.7" cy="1284.7" r="3.25"/>
<circle cx="1478.7" cy="1281.9" r="3.25"/>
<circle cx="1478.7" cy="1279.1" r="3.25"/>
<circle cx="1478.7" cy="1268.4" r="3.25"/>
<circle cx="1478.7" cy="1259.7" r="3.25"/>
<circle cx="1478.7" cy="1197.2" r="3.25"/>
<circle cx="1478.7" cy="1159.1" r="3.25"/>
</g>
<line x1="1103.2" y1="1035.6" x2="1103.2" y2="1436.8" stroke="#000" stroke-width="2.4"/>
<line x1="1103.2" y1="1435.6" x2="1237.4" y2="1435.6" stroke="#000" stroke-width="2.4"/>
<line x1="1257" y1="1435.6" x2="1391.5" y2="1435.6" stroke="#000" stroke-width="2.4"/>
<line x1="1411.8" y1="1435.6" x2="1546.2" y2="1435.6" stroke="#000" stroke-width="2.4"/>
<line x1="1103.2" y1="1097.2" x2="1107.7" y2="1097.2" stroke="#000" stroke-width="1"/>
<line x1="1103.2" y1="1158.8" x2="1107.7" y2="1158.8" stroke="#000" stroke-width="1"/>
<line x1="1103.2" y1="1220.4" x2="1107.7" y2="1220.4" stroke="#000" stroke-width="1"/>
<line x1="1103.2" y1="1281.9" x2="1107.7" y2="1281.9" stroke="#000" stroke-width="1"/>
<line x1="1103.2" y1="1343.5" x2="1107.7" y2="1343.5" stroke="#000" stroke-width="1"/>
<line x1="1103.2" y1="1405" x2="1107.7" y2="1405" stroke="#000" stroke-width="1"/>
<line x1="1169.8" y1="1431.1" x2="1169.8" y2="1435.6" stroke="#000" stroke-width="1"/>
<line x1="1323.9" y1="1431.1" x2="1323.9" y2="1435.6" stroke="#000" stroke-width="1"/>
<line x1="1478.7" y1="1431.1" x2="1478.7" y2="1435.6" stroke="#000" stroke-width="1"/>
<text transform="translate(1105.6 1061.2) scale(1 1.045)" font-size="33.7" text-anchor="start">Left visual field</text>
<text transform="translate(1170.8 1477) scale(1 1.045)" font-size="27.8" text-anchor="middle">Ignored</text>
<text transform="translate(1326.6 1475.8) scale(1 1.045)" font-size="27.8" text-anchor="middle">Attended</text>
<text transform="translate(1481 1477) scale(1 1.045)" font-size="27.8" text-anchor="middle">Control</text>
<text transform="translate(1324 1519.2) scale(1 1.045)" font-size="27.8" text-anchor="middle">Visual Field</text>
</g>
<text transform="translate(949 1037) scale(1 1.045)" font-size="54" text-anchor="start">d)</text>
<text transform="translate(1096 1045.5) scale(1 1.045)" font-size="29" text-anchor="end">40</text>
<text transform="translate(1096 1103.9) scale(1 1.045)" font-size="29" text-anchor="end">30</text>
<text transform="translate(1096.3 1163.9) scale(1 1.045)" font-size="29" text-anchor="end">20</text>
<text transform="translate(1096.3 1227.9) scale(1 1.045)" font-size="29" text-anchor="end">10</text>
<text transform="translate(1095.2 1289.8) scale(1 1.045)" font-size="29" text-anchor="end">0</text>
<text transform="translate(1094.5 1350) scale(1 1.045)" font-size="29" text-anchor="end">-10</text>
<text transform="translate(1093.9 1411) scale(1 1.045)" font-size="29" text-anchor="end">-20</text>
<text transform="translate(1037.5 1228) rotate(-90) scale(1 1.045)" font-size="34.5" text-anchor="middle">% Change MOT accuracy</text>
<g id="panel-d-right">
<line x1="1566.8" y1="1278.3" x2="1699.2" y2="1278.3" stroke="#000" stroke-width="2" stroke-dasharray="1.2 0.8"/>
<line x1="1721.6" y1="1278.3" x2="1853" y2="1278.3" stroke="#000" stroke-width="2" stroke-dasharray="1.2 0.8"/>
<line x1="1875.4" y1="1278.3" x2="2007" y2="1278.3" stroke="#000" stroke-width="2" stroke-dasharray="1.2 0.8"/>
<rect x="1606.7" y="1237.6" width="53.7" height="40.7" fill="#800000" stroke="#000" stroke-width="1.6"/>
<rect x="1760.4" y="1270.8" width="53.7" height="7.5" fill="#008080" stroke="#000" stroke-width="1.6"/>
<rect x="1914.5" y="1275.4" width="54.1" height="3.3" fill="#ff6600" stroke="#000" stroke-width="1"/>
<line x1="1633.4" y1="1226" x2="1633.4" y2="1237.6" stroke="#000" stroke-width="1.6"/>
<line x1="1629.9" y1="1226" x2="1636.9" y2="1226" stroke="#000" stroke-width="1.6"/>
<line x1="1787.1" y1="1250.9" x2="1787.1" y2="1290" stroke="#000" stroke-width="1.6"/>
<line x1="1783.6" y1="1250.9" x2="1790.6" y2="1250.9" stroke="#000" stroke-width="1.6"/>
<line x1="1783.6" y1="1290" x2="1790.6" y2="1290" stroke="#000" stroke-width="1.6"/>
<line x1="1941.2" y1="1255.7" x2="1941.2" y2="1299.6" stroke="#000" stroke-width="1.6"/>
<line x1="1937.7" y1="1255.7" x2="1944.7" y2="1255.7" stroke="#000" stroke-width="1.6"/>
<g fill="#800000" stroke="#000" stroke-width="1.1">
<circle cx="1633.4" cy="1285.4" r="3.25"/>
<circle cx="1633.4" cy="1282.6" r="3.25"/>
<circle cx="1633.4" cy="1270.5" r="3.25"/>
<circle cx="1633.4" cy="1261.4" r="3.25"/>
<circle cx="1633.4" cy="1256.4" r="3.25"/>
<circle cx="1633.4" cy="1248.4" r="3.25"/>
<circle cx="1633.4" cy="1238.5" r="3.25"/>
<circle cx="1633.4" cy="1206.3" r="3.25"/>
<circle cx="1633.4" cy="1182.5" r="3.25"/>
<circle cx="1633.4" cy="1144.9" r="3.25"/>
</g>
<g fill="#008080" stroke="#000" stroke-width="1.1">
<circle cx="1787.1" cy="1390.4" r="3.25"/>
<circle cx="1787.1" cy="1342.2" r="3.25"/>
<circle cx="1787.1" cy="1329.7" r="3.25"/>
<circle cx="1787.1" cy="1303.2" r="3.25"/>
<circle cx="1787.1" cy="1287.2" r="3.25"/>
<circle cx="1787.1" cy="1278.3" r="3.25"/>
<circle cx="1787.1" cy="1227.7" r="3.25"/>
<circle cx="1787.1" cy="1217.8" r="3.25"/>
<circle cx="1787.1" cy="1213.8" r="3.25"/>
<circle cx="1787.1" cy="1188.1" r="3.25"/>
<circle cx="1787.1" cy="1102.3" r="3.25"/>
</g>
<g fill="#ff6600" stroke="#000" stroke-width="1.1">
<circle cx="1941.2" cy="1374.8" r="3.25"/>
<circle cx="1941.2" cy="1361" r="3.25"/>
<circle cx="1941.2" cy="1341.3" r="3.25"/>
<circle cx="1941.2" cy="1314.6" r="3.25"/>
<circle cx="1941.2" cy="1300.9" r="3.25"/>
<circle cx="1941.2" cy="1295" r="3.25"/>
<circle cx="1941.2" cy="1278.3" r="3.25"/>
<circle cx="1941.2" cy="1270.5" r="3.25"/>
<circle cx="1941.2" cy="1267.7" r="3.25"/>
<circle cx="1941.2" cy="1246.7" r="3.25"/>
<circle cx="1941.2" cy="1245.1" r="3.25"/>
<circle cx="1941.2" cy="1158.7" r="3.25"/>
<circle cx="1941.2" cy="1107.3" r="3.25"/>
</g>
<line x1="1566.8" y1="1026.7" x2="1566.8" y2="1436.1" stroke="#000" stroke-width="2.4"/>
<line x1="1566.8" y1="1434.9" x2="1700.3" y2="1434.9" stroke="#000" stroke-width="2.4"/>
<line x1="1719.9" y1="1434.9" x2="1854" y2="1434.9" stroke="#000" stroke-width="2.4"/>
<line x1="1874.3" y1="1434.9" x2="2008.2" y2="1434.9" stroke="#000" stroke-width="2.4"/>
<line x1="1566.8" y1="1090.4" x2="1571.3" y2="1090.4" stroke="#000" stroke-width="1"/>
<line x1="1566.8" y1="1153" x2="1571.3" y2="1153" stroke="#000" stroke-width="1"/>
<line x1="1566.8" y1="1215.7" x2="1571.3" y2="1215.7" stroke="#000" stroke-width="1"/>
<line x1="1566.8" y1="1278.3" x2="1571.3" y2="1278.3" stroke="#000" stroke-width="1"/>
<line x1="1566.8" y1="1340.9" x2="1571.3" y2="1340.9" stroke="#000" stroke-width="1"/>
<line x1="1566.8" y1="1403.6" x2="1571.3" y2="1403.6" stroke="#000" stroke-width="1"/>
<line x1="1633.4" y1="1430.4" x2="1633.4" y2="1434.9" stroke="#000" stroke-width="1"/>
<line x1="1787.1" y1="1430.4" x2="1787.1" y2="1434.9" stroke="#000" stroke-width="1"/>
<line x1="1941.2" y1="1430.4" x2="1941.2" y2="1434.9" stroke="#000" stroke-width="1"/>
<text transform="translate(1574.2 1052.4) scale(1 1.045)" font-size="33.35" text-anchor="start">Right visual field</text>
<text transform="translate(1634.4 1477.6) scale(1 1.045)" font-size="27.8" text-anchor="middle">Ignored</text>
<text transform="translate(1789.2 1475.8) scale(1 1.045)" font-size="27.8" text-anchor="middle">Attended</text>
<text transform="translate(1943 1477.6) scale(1 1.045)" font-size="27.8" text-anchor="middle">Control</text>
<text transform="translate(1787.1 1519.2) scale(1 1.045)" font-size="27.8" text-anchor="middle">Visual Field</text>
</g>
</svg>
</body></html>
